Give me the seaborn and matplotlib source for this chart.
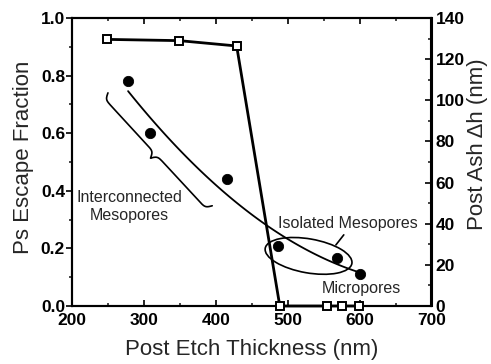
import numpy as np
import matplotlib
matplotlib.use("Agg")
import matplotlib.pyplot as plt
import matplotlib.transforms as mtransforms
from matplotlib.patches import Ellipse
from matplotlib.ticker import MultipleLocator, FormatStrFormatter
import seaborn as sns

# Ps escape fraction (left axis)
thickness_ps = [278, 308, 415, 487, 568, 600]
ps_fraction = [0.78, 0.60, 0.44, 0.21, 0.165, 0.11]

# Post ash shrinkage (right axis)
thickness_ash = [249, 349, 429, 489, 555, 576, 599]
ash_dh = [129.6, 129.0, 126.4, 0, 0, 0, 0]


def draw_brace(ax, p1, p2, depth, beta=0.6, lw=1.2):
    # curly brace between two data points, built in pixel space
    a = ax.transData.transform(p1)
    b = ax.transData.transform(p2)
    d = b - a
    L = np.hypot(*d)
    u = d / L
    n = np.array([u[1], -u[0]])
    s = np.linspace(0, L / 2, 200)
    half = 1 / (1 + np.exp(-beta * (s - s[0]))) + 1 / (1 + np.exp(-beta * (s - s[-1])))
    v = np.concatenate([half, half[-2::-1]]) - 0.5
    t = np.concatenate([s, L - s[-2::-1]])
    pts = a + np.outer(t, u) + np.outer(v * depth, n)
    pts = ax.transData.inverted().transform(pts)
    ax.plot(pts[:, 0], pts[:, 1], color="black", lw=lw, solid_capstyle="round")


def main():
    sns.set_theme(style="ticks")
    plt.rcParams["font.family"] = ["Liberation Sans", "DejaVu Sans"]

    fig = plt.figure(figsize=(4.91, 3.64), dpi=100)
    fig.patch.set_facecolor("white")
    ax = fig.add_axes([72 / 491, 1 - 306 / 364, 359.5 / 491, 288 / 364])
    ax2 = ax.twinx()

    # trend through the filled points
    sns.regplot(x=thickness_ps, y=ps_fraction, order=2, ci=None, scatter=False,
                line_kws=dict(color="black", lw=1.3), ax=ax)
    sns.scatterplot(x=thickness_ps, y=ps_fraction, s=55, color="black",
                    edgecolor="black", zorder=5, ax=ax)

    sns.lineplot(x=thickness_ash, y=ash_dh, color="black", lw=2.0, marker="s",
                 markersize=5.5, markerfacecolor="white", markeredgecolor="black",
                 markeredgewidth=1.4, clip_on=False, zorder=6, ax=ax2)

    ax.set_xlim(200, 700)
    ax.set_ylim(0, 1.0)
    ax2.set_ylim(0, 140)

    # ticks
    ax.xaxis.set_major_locator(MultipleLocator(100))
    ax.xaxis.set_minor_locator(MultipleLocator(50))
    ax.yaxis.set_major_locator(MultipleLocator(0.2))
    ax.yaxis.set_minor_locator(MultipleLocator(0.1))
    ax2.yaxis.set_major_locator(MultipleLocator(20))
    ax2.yaxis.set_minor_locator(MultipleLocator(10))
    ax.yaxis.set_major_formatter(FormatStrFormatter("%.1f"))

    ax.tick_params(axis="x", which="both", direction="in", top=True, bottom=True,
                   width=1.2, pad=5)
    ax.tick_params(axis="y", which="both", direction="out", left=True, right=False,
                   width=1.2, pad=1)
    ax2.tick_params(axis="y", which="both", direction="in", width=1.2, pad=3)
    for a in (ax, ax2):
        a.tick_params(which="major", length=4, labelsize=12.5, colors="black")
        a.tick_params(which="minor", length=2.5)
        for lab in a.get_xticklabels() + a.get_yticklabels():
            lab.set_fontweight("bold")
        for sp in a.spines.values():
            sp.set_visible(True)
            sp.set_linewidth(1.5)
            sp.set_color("black")

    ax.set_xlabel("Post Etch Thickness (nm)", fontsize=16, labelpad=8)
    ax.set_ylabel("Ps Escape Fraction", fontsize=16)
    ax2.set_ylabel("Post Ash \u0394h (nm)", fontsize=16)
    ax.yaxis.set_label_coords(-0.106, 0.515)
    ax2.yaxis.set_label_coords(1.10, 0.5625)

    # annotations
    draw_brace(ax, (250, 0.74), (395, 0.348), depth=13)
    ax.text(279.5, 0.345, "Interconnected\nMesopores", ha="center", va="center",
            fontsize=11.5, linespacing=1.3)

    trans = fig.dpi_scale_trans + mtransforms.ScaledTranslation(529, 0.174, ax.transData)
    ax.add_patch(Ellipse((0, 0), 0.88, 0.34, angle=-10, fill=False, lw=1.2,
                         edgecolor="black", transform=trans))
    ax.plot([567, 578], [0.212, 0.247], color="black", lw=1.2)
    ax.text(584, 0.288, "Isolated Mesopores", ha="center", va="center", fontsize=11.5)
    ax.text(603, 0.0625, "Micropores", ha="center", va="center", fontsize=11.5)

    fig.savefig("out.png", dpi=100, facecolor="white")
    plt.close(fig)


if __name__ == "__main__":
    main()
